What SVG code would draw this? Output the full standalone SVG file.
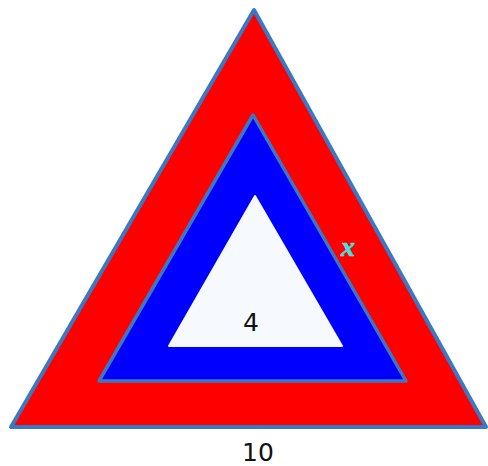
<svg xmlns="http://www.w3.org/2000/svg" width="488" height="466" viewBox="0 0 488 466">
<style>
.lbl{font-family:"DejaVu Sans","Liberation Sans",sans-serif;font-size:25px;fill:#111;text-anchor:middle}
.var{font-family:"Liberation Serif","DejaVu Serif",serif;font-style:italic;font-weight:bold;font-size:28px;fill:#3fe3e3;stroke:#3fe3e3;stroke-width:0.6;text-anchor:middle}
</style>
<rect width="488" height="466" fill="#fff"/>
<g id="outer">
<polygon points="254,10 11,427 486,427" fill="#ff0000" stroke="#3a78c4" stroke-width="4" stroke-linejoin="round"/>
</g>
<g id="middle">
<polygon points="253,115 99,381 406,381" fill="#0000ff" stroke="#3a78c4" stroke-width="3.5" stroke-linejoin="round"/>
</g>
<g id="inner">
<polygon points="255,196 169,346 342,346" fill="#f6f9fd" stroke="#f6f9fd" stroke-width="2" stroke-linejoin="round"/>
</g>
<g id="labels">
<text class="lbl" x="251" y="331">4</text>
<text class="lbl" x="258" y="461">10</text>
<text class="var" x="348" y="256">x</text>
</g>
</svg>
